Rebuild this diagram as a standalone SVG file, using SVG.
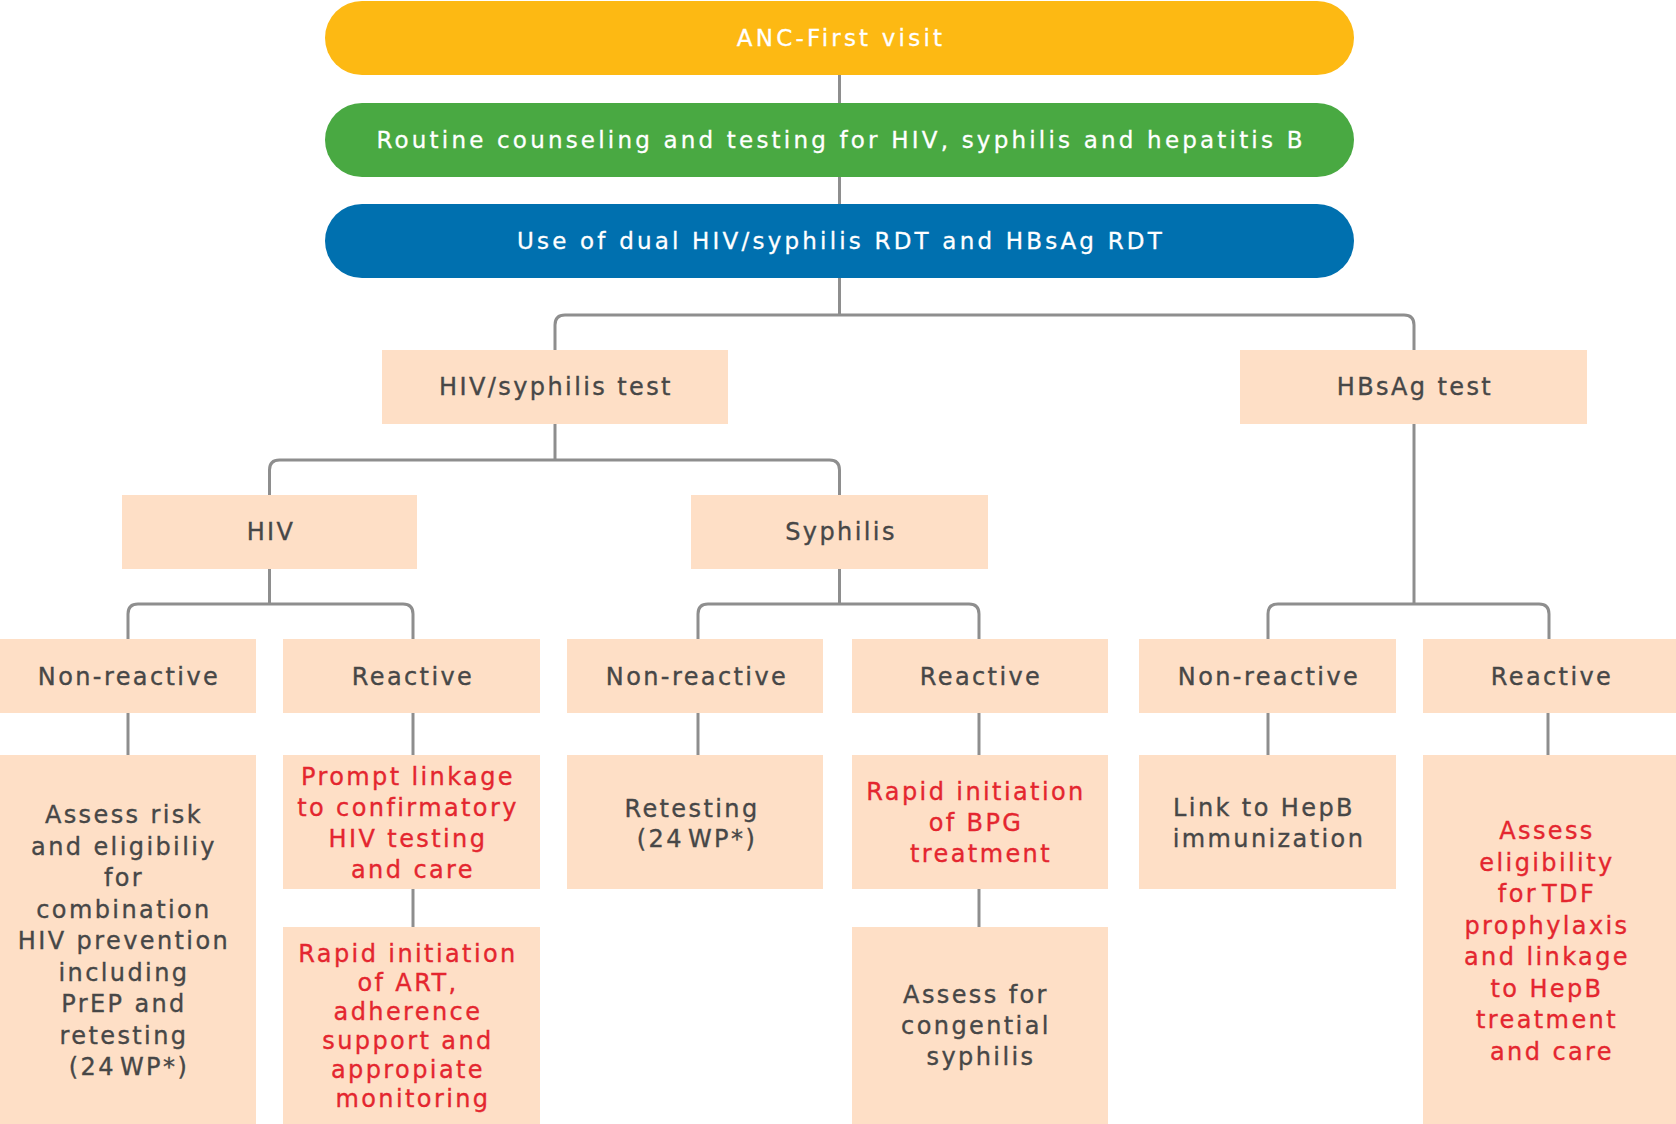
<svg xmlns="http://www.w3.org/2000/svg" width="1676" height="1124" viewBox="0 0 1676 1124">
<style>
.bg{fill:#ffffff}
.box{fill:#FEDFC6}
.pill-t{fill:#ffffff;stroke:#ffffff;stroke-width:0.3px;font-family:"DejaVu Sans","Liberation Sans",sans-serif;font-size:23px;letter-spacing:3.2px;text-anchor:middle}
.t{fill:#474747;stroke:#474747;stroke-width:0.35px;font-family:"DejaVu Sans","Liberation Sans",sans-serif;font-size:24px;letter-spacing:2.4px;text-anchor:middle}
.r{fill:#E4262F;stroke:#E4262F;stroke-width:0.35px;font-family:"DejaVu Sans","Liberation Sans",sans-serif;font-size:24px;letter-spacing:2.4px;text-anchor:middle}
.tight{word-spacing:-6px}
.conn{fill:none;stroke:#8E8E8E;stroke-width:3}
</style>
<rect class="bg" x="0" y="0" width="1676" height="1124"/>
<g id="connectors">
<path class="conn" d="M839.5,75 V103"/>
<path class="conn" d="M839.5,177 V204"/>
<path class="conn" d="M839.5,278 V315"/>
<path class="conn" d="M555,350 V325 Q555,315 565,315 H1404 Q1414,315 1414,325 V350"/>
<path class="conn" d="M555,424 V460"/>
<path class="conn" d="M269.5,495 V470 Q269.5,460 279.5,460 H829.5 Q839.5,460 839.5,470 V495"/>
<path class="conn" d="M269.5,569 V604"/>
<path class="conn" d="M128,639 V614 Q128,604 138,604 H403 Q413,604 413,614 V639"/>
<path class="conn" d="M839.5,569 V604"/>
<path class="conn" d="M698,639 V614 Q698,604 708,604 H969 Q979,604 979,614 V639"/>
<path class="conn" d="M1414,424 V604"/>
<path class="conn" d="M1268,639 V614 Q1268,604 1278,604 H1539 Q1549,604 1549,614 V639"/>
<path class="conn" d="M128,713 V755"/>
<path class="conn" d="M413,713 V755"/>
<path class="conn" d="M698,713 V755"/>
<path class="conn" d="M979,713 V755"/>
<path class="conn" d="M1268,713 V755"/>
<path class="conn" d="M1548,713 V755"/>
<path class="conn" d="M413,889 V927"/>
<path class="conn" d="M979,889 V927"/>
</g>
<g id="anc">
<rect x="325" y="1" width="1029" height="74" rx="37" fill="#FDB913"/>
<text class="pill-t" x="841" y="46">ANC-First visit</text>
</g>
<g id="routine">
<rect x="325" y="103" width="1029" height="74" rx="37" fill="#49A942"/>
<text class="pill-t" x="841" y="148">Routine counseling and testing for HIV, syphilis and hepatitis B</text>
</g>
<g id="dual">
<rect x="325" y="204" width="1029" height="74" rx="37" fill="#0070AF"/>
<text class="pill-t" x="841" y="249">Use of dual HIV/syphilis RDT and HBsAg RDT</text>
</g>
<g id="hivsyph-test">
<rect class="box" x="382" y="350" width="346" height="74"/>
<text class="t" x="556" y="395">HIV/syphilis test</text>
</g>
<g id="hbsag-test">
<rect class="box" x="1240" y="350" width="347" height="74"/>
<text class="t" x="1415" y="395">HBsAg test</text>
</g>
<g id="hiv">
<rect class="box" x="122" y="495" width="295" height="74"/>
<text class="t" x="271" y="540">HIV</text>
</g>
<g id="syphilis">
<rect class="box" x="691" y="495" width="297" height="74"/>
<text class="t" x="841" y="540">Syphilis</text>
</g>
<g id="hiv-nonreactive">
<rect class="box" x="0" y="639" width="256" height="74"/>
<text class="t" x="129" y="685">Non-reactive</text>
</g>
<g id="hiv-reactive">
<rect class="box" x="283" y="639" width="257" height="74"/>
<text class="t" x="413" y="685">Reactive</text>
</g>
<g id="syph-nonreactive">
<rect class="box" x="567" y="639" width="256" height="74"/>
<text class="t" x="697" y="685">Non-reactive</text>
</g>
<g id="syph-reactive">
<rect class="box" x="852" y="639" width="256" height="74"/>
<text class="t" x="981" y="685">Reactive</text>
</g>
<g id="hbsag-nonreactive">
<rect class="box" x="1139" y="639" width="257" height="74"/>
<text class="t" x="1269" y="685">Non-reactive</text>
</g>
<g id="hbsag-reactive">
<rect class="box" x="1423" y="639" width="256" height="74"/>
<text class="t" x="1552" y="685">Reactive</text>
</g>
<g id="assess-risk">
<rect class="box" x="0" y="755" width="256" height="369"/>
<text class="t">
<tspan x="129" y="823">Assess risk</tspan>
<tspan x="129" y="854.5">and eligibiliy</tspan>
<tspan x="129" y="886">for</tspan>
<tspan x="129" y="917.5">combination</tspan>
<tspan x="129" y="949">HIV prevention</tspan>
<tspan x="129" y="980.5">including</tspan>
<tspan x="129" y="1012">PrEP and</tspan>
<tspan x="129" y="1043.5">retesting</tspan>
<tspan class="tight" x="129" y="1075">(24 WP*)</tspan>
</text>
</g>
<g id="prompt-linkage">
<rect class="box" x="283" y="755" width="257" height="134"/>
<text class="r">
<tspan x="413" y="785">Prompt linkage</tspan>
<tspan x="413" y="816">to confirmatory</tspan>
<tspan x="413" y="847">HIV testing</tspan>
<tspan x="413" y="878">and care</tspan>
</text>
</g>
<g id="rapid-art">
<rect class="box" x="283" y="927" width="257" height="197"/>
<text class="r">
<tspan x="413" y="962">Rapid initiation</tspan>
<tspan x="413" y="991">of ART,</tspan>
<tspan x="413" y="1020">adherence</tspan>
<tspan x="413" y="1049">support and</tspan>
<tspan x="413" y="1078">appropiate</tspan>
<tspan x="413" y="1107">monitoring</tspan>
</text>
</g>
<g id="retesting">
<rect class="box" x="567" y="755" width="256" height="134"/>
<text class="t">
<tspan x="697" y="816.5">Retesting</tspan>
<tspan class="tight" x="697" y="847">(24 WP*)</tspan>
</text>
</g>
<g id="rapid-bpg">
<rect class="box" x="852" y="755" width="256" height="134"/>
<text class="r">
<tspan x="981" y="800">Rapid initiation</tspan>
<tspan x="981" y="831">of BPG</tspan>
<tspan x="981" y="862">treatment</tspan>
</text>
</g>
<g id="congenital">
<rect class="box" x="852" y="927" width="256" height="197"/>
<text class="t">
<tspan x="981" y="1003">Assess for</tspan>
<tspan x="981" y="1034">congential</tspan>
<tspan x="981" y="1065">syphilis</tspan>
</text>
</g>
<g id="hepb-immunization">
<rect class="box" x="1139" y="755" width="257" height="134"/>
<text class="t">
<tspan x="1269" y="816">Link to HepB</tspan>
<tspan x="1269" y="847">immunization</tspan>
</text>
</g>
<g id="tdf">
<rect class="box" x="1423" y="755" width="256" height="369"/>
<text class="r">
<tspan x="1552" y="839">Assess</tspan>
<tspan x="1552" y="870.5">eligibility</tspan>
<tspan class="tight" x="1552" y="902">for TDF</tspan>
<tspan x="1552" y="933.5">prophylaxis</tspan>
<tspan x="1552" y="965">and linkage</tspan>
<tspan x="1552" y="996.5">to HepB</tspan>
<tspan x="1552" y="1028">treatment</tspan>
<tspan x="1552" y="1059.5">and care</tspan>
</text>
</g>
</svg>
